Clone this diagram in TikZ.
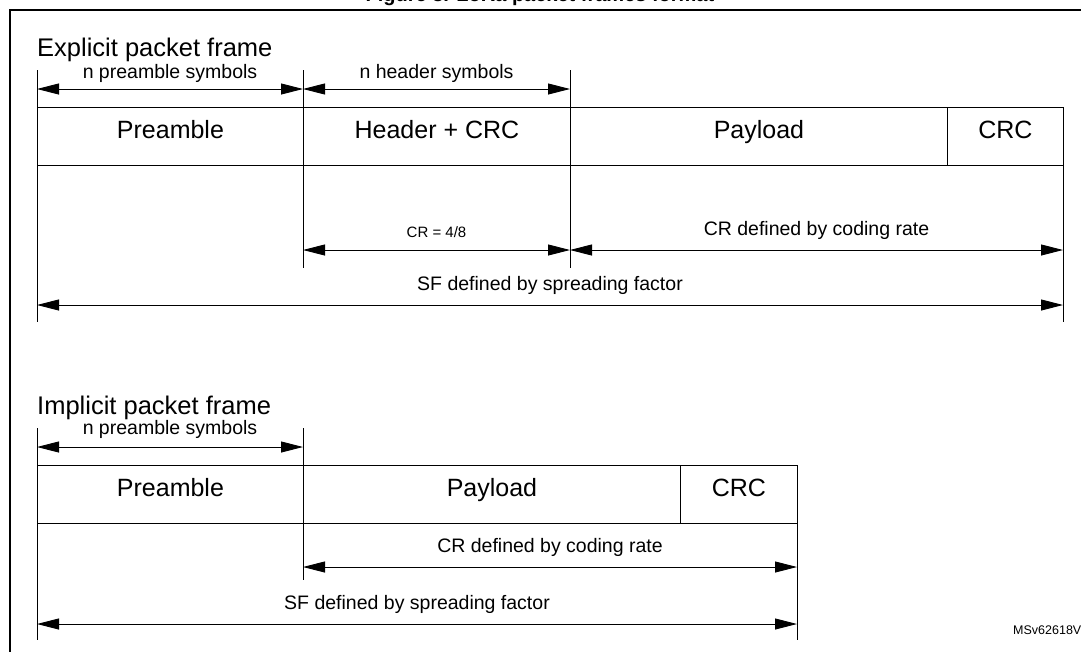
\documentclass[tikz,border=0pt]{standalone}
\usepackage{fontspec}
\setmainfont{Liberation Sans}
\usetikzlibrary{arrows.meta}
\begin{document}
\begin{tikzpicture}[x=1pt,y=-1pt,
  box/.style={draw,line width=0.9pt,minimum height=58pt,inner sep=0pt,text height=12pt,text depth=8pt,font=\fontsize{25}{27}\selectfont},
  dim/.style={line width=0.9pt,{Triangle[length=22pt,width=11pt]}-{Triangle[length=22pt,width=11pt]}},
  ext/.style={line width=0.5pt},
  lab/.style={font=\fontsize{19.5}{21}\selectfont,inner sep=0pt},
  head/.style={font=\fontsize{25.5}{27}\selectfont,anchor=west,inner sep=0pt}]
\useasboundingbox (0,0) rectangle (1081,651);
\clip (0,0) rectangle (1081,651);
\node[font=\bfseries\fontsize{20}{22}\selectfont] (title) at (540,-4) {Figure 3. LoRa packet frames format};
\draw[line width=1.2pt] (1090,10) -- (10,10) -- (10,660);
% explicit
\node[head] (h1) at (37,50) {Explicit packet frame};
\coordinate (a0) at (37,89); \coordinate (a1) at (303,89); \coordinate (a2) at (570,89);
\draw[ext] (37,70) -- (37,107); \draw[ext] (303,70) -- (303,107); \draw[ext] (570,70) -- (570,107);
\draw[dim] (a0) -- node[lab,above=6pt] {n preamble symbols} (a1);
\draw[dim] (a1) -- node[lab,above=6pt] {n header symbols} (a2);
\node[box,minimum width=266pt,anchor=north west] (pre1) at (37,107) {Preamble};
\node[box,minimum width=267pt,anchor=north west] (hdr) at (303,107) {Header + CRC};
\node[box,minimum width=377pt,anchor=north west] (pay1) at (570,107) {Payload};
\node[box,minimum width=116pt,anchor=north west] (crc1) at (947,107) {CRC};
\draw[ext] (37,165) -- (37,322); \draw[ext] (303,165) -- (303,268);
\draw[ext] (570,165) -- (570,268); \draw[ext] (1063,165) -- (1063,322);
\coordinate (b0) at (303,250); \coordinate (b1) at (570,250); \coordinate (b2) at (1063,250);
\draw[dim] (b0) -- node[lab,above=12pt,font=\fontsize{15}{17}\selectfont] {CR = 4/8} (b1);
\draw[dim] (b1) -- node[lab,above=10pt] {CR defined by coding rate} (b2);
\coordinate (c0) at (37,305); \coordinate (c1) at (1063,305);
\draw[dim] (c0) -- node[lab,above=10pt] {SF defined by spreading factor} (c1);
% implicit
\node[head] (h2) at (37,408) {Implicit packet frame};
\draw[ext] (37,428) -- (37,465); \draw[ext] (303,428) -- (303,465);
\coordinate (d0) at (37,447); \coordinate (d1) at (303,447);
\draw[dim] (d0) -- node[lab,above=8pt] {n preamble symbols} (d1);
\node[box,minimum width=266pt,anchor=north west] (pre2) at (37,465) {Preamble};
\node[box,minimum width=377pt,anchor=north west] (pay2) at (303,465) {Payload};
\node[box,minimum width=117pt,anchor=north west] (crc2) at (680,465) {CRC};
\draw[ext] (37,523) -- (37,640); \draw[ext] (303,523) -- (303,580); \draw[ext] (797,523) -- (797,640);
\coordinate (e0) at (303,567); \coordinate (e1) at (797,567);
\draw[dim] (e0) -- node[lab,above=10pt] {CR defined by coding rate} (e1);
\coordinate (f0) at (37,624); \coordinate (f1) at (797,624);
\draw[dim] (f0) -- node[lab,above=10pt] {SF defined by spreading factor} (f1);
\node[font=\fontsize{12.5}{14}\selectfont,anchor=west,inner sep=0pt] (id) at (1013,630) {MSv62618V1};
\end{tikzpicture}
\end{document}
